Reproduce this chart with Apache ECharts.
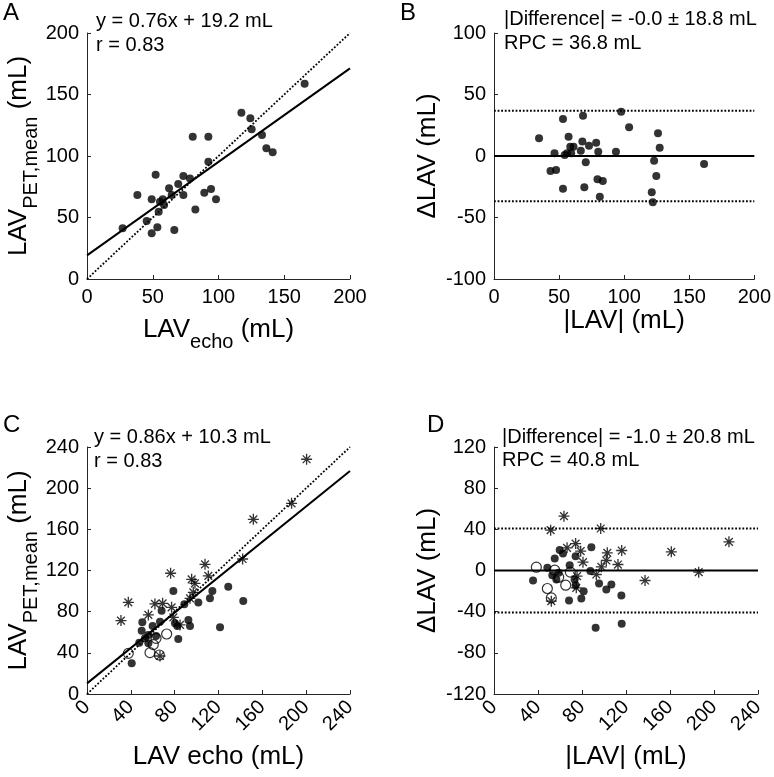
<!DOCTYPE html>
<html><head><meta charset="utf-8">
<script src="https://cdn.jsdelivr.net/npm/echarts@6/dist/echarts.min.js"></script>
<style>html,body{margin:0;padding:0;background:#fff}#c{width:774px;height:777px}</style>
</head><body><div id="c"></div><script>
// ---------- data ----------
// Panel A: LAV echo (x) vs LAV PET,mean (y)
const echoA = [27.1,38.3,45.4,49.2,49.2,52.2,53.5,54.5,55.5,57.6,58.6,62.4,64.4,66.4,69.4,73.3,73.3,78.3,80.4,82.4,89.2,92.3,92.3,94.3,98.1,117.4,124.2,125.2,133.1,136.4,141.2,165.5];
const petA  = [41.2,68.3,47.2,64.8,37.1,84.8,42.0,54.7,62.9,64.8,60.2,73.7,68.3,39.8,77.2,83.7,68.3,81.8,115.7,56.6,70.2,95.4,115.7,73.2,64.8,135.2,130.6,121.7,117.1,106.3,103.0,158.8];
const fitA = [[0,19.2],[200,171.2]];
const identityA = [[0,0],[200,200]];
// Panel B: mean |LAV| vs difference
const meanB = [34.6,43.4,46.5,47.7,53.0,53.0,54.3,56.1,57.3,58.6,59.3,61.1,66.7,67.9,68.4,69.4,70.5,73.0,78.5,79.5,80.1,81.3,83.6,93.7,97.7,103.8,121.2,122.0,123.0,124.7,126.0,127.3,161.4];
const diffB = [14.4,-12.2,2.2,-11.4,30.1,-26.6,0.8,2.2,15.7,7.6,2.2,7.6,4.3,11.7,32.8,-25.5,-5.1,8.4,10.8,-19.0,3.5,-33.1,-20.3,3.5,36.0,23.3,-29.5,-37.7,-3.8,-16.3,18.4,6.8,-6.5];
const meanLineB = [[0,0],[200,0]];
const rpcUpB = [[0,36.8],[200,36.8]];
const rpcLoB = [[0,-36.8],[200,-36.8]];
// Panel C: three groups (filled, open, asterisk)
const echoCf = [78.8,114.4,128.9,112.2,101.6,88.8,142.6,68.1,50.5,49.9,59.9,66.6,80.3,82.4,92.5,94.0,121.4,83.3,47.7,56.0,52.9,63.0,40.8,56.0];
const petCf  = [100.1,100.1,104.3,93.0,88.8,87.1,90.4,81.0,69.6,61.5,66.1,70.3,68.7,66.1,71.9,66.1,64.8,53.4,49.9,49.2,54.1,56.4,29.8,57.3];
const echoCo = [37.7,57.5,63.0,72.7,66.0,60.5];
const petCo  = [39.5,40.2,54.1,58.3,37.9,48.0];
const echoCs = [200.4,186.7,151.8,142.0,107.7,110.7,76.3,95.5,98.5,97.0,37.7,31.0,62.0,69.0,56.0,77.2,78.8,84.9,66.6,94.0];
const petCs  = [228.1,185.3,169.7,131.2,126.0,114.7,117.3,111.4,107.5,98.8,89.1,71.3,87.5,88.1,76.8,84.2,74.5,67.1,36.9,93.0];
const fitC = [[0,10.3],[240,216.7]];
const identityC = [[0,0],[240,240]];
// Panel D
const meanDf = [35.5,48.5,55.2,59.7,62.7,68.8,74.2,53.0,56.7,58.8,68.2,73.3,74.2,79.4,81.5,88.5,87.6,95.5,102.1,106.7,115.8,92.4,116.1];
const diffDf = [-9.7,2.6,11.7,19.8,16.5,5.2,13.9,-4.5,-8.7,-2.3,-29.2,-8.7,-14.3,-27.2,-20.1,22.7,-0.6,-12.6,-18.5,-13.6,-24.3,-55.7,-51.8];
const meanDo = [38.5,48.5,52.1,65.2,55.2,58.8,69.4];
const diffDo = [3.2,-17.5,-26.6,-14.3,0.3,-6.5,-1.6];
const meanDs = [213.6,186.1,161.2,137.3,116.1,112.7,103.0,102.1,97.6,93.0,97.0,63.6,51.5,52.1,74.2,66.4,78.8,80.9,75.5,74.8];
const diffDs = [27.9,-1.6,18.1,-9.7,19.4,5.8,17.2,9.7,3.6,-3.9,40.8,52.8,39.2,-29.8,26.2,22.0,18.8,8.1,-5.5,-16.8];
const meanLineD = [[0,0],[240,0]];
const rpcUpD = [[0,40.8],[240,40.8]];
const rpcLoD = [[0,-40.8],[240,-40.8]];
// axis ranges [min, max, step]
const xRangeA = [0,200,50], yRangeA = [0,200,50];
const xRangeB = [0,200,50], yRangeB = [-100,100,50];
const xRangeC = [0,240,40], yRangeC = [0,240,40];
const xRangeD = [0,240,40], yRangeD = [-120,120,40];
// ---------- chart ----------
const FONT = '"Liberation Sans", Arial, sans-serif';
const AX = '#262626';
const pairs = (xs, ys) => xs.map((x, i) => [x, ys[i]]);
const richName = {
  a: {fontSize: 26, lineHeight: 44, fontFamily: FONT, color: '#000'},
  b: {fontSize: 20, lineHeight: 20, verticalAlign: 'bottom', fontFamily: FONT, color: '#000'}
};
function axis(gi, r, name, gap, rotate) {
  return {
    type: 'value', gridIndex: gi, min: r[0], max: r[1], interval: r[2],
    name: name, nameLocation: 'middle', nameGap: gap,
    nameTextStyle: {fontFamily: FONT, fontSize: 26, color: '#000', rich: richName},
    axisLine: {onZero: false, lineStyle: {color: AX, width: 1}},
    axisTick: {inside: true, length: 4, lineStyle: {color: AX, width: 1}},
    axisLabel: {color: '#000', fontFamily: FONT, fontSize: 20, margin: rotate ? 10 : 8, rotate: rotate || 0},
    splitLine: {show: false}
  };
}
const STAR = 'path://M-1.2,-10L1.2,-10L1.2,10L-1.2,10Z M-10,-1.2L10,-1.2L10,1.2L-10,1.2Z M-6.2,-7.9L7.9,6.2L6.2,7.9L-7.9,-6.2Z M7.9,-6.2L-6.2,7.9L-7.9,6.2L6.2,-7.9Z';
function filled(gi, data) { return {type: 'scatter', xAxisIndex: gi, yAxisIndex: gi, data, symbol: 'circle', symbolSize: 8, itemStyle: {color: '#000'}, z: 5}; }
function openC(gi, data) { return {type: 'scatter', xAxisIndex: gi, yAxisIndex: gi, data, symbol: 'circle', symbolSize: 10, itemStyle: {color: 'rgba(0,0,0,0)', borderColor: '#000', borderWidth: 1.2}, z: 6}; }
function stars(gi, data) { return {type: 'scatter', xAxisIndex: gi, yAxisIndex: gi, data, symbol: STAR, symbolSize: 11, itemStyle: {color: '#000'}, z: 7}; }
function line(gi, data, dotted) { return {type: 'line', xAxisIndex: gi, yAxisIndex: gi, data, symbol: 'none', silent: true, z: 3, lineStyle: {color: '#000', width: dotted ? 1.8 : 2, type: dotted ? 'dotted' : 'solid'}}; }
function txt(left, top, text, size) { return {type: 'text', left, top, style: {text, font: (size || 20) + 'px "Liberation Sans", Arial, sans-serif', fill: '#000'}}; }

const option = {
  animation: false,
  backgroundColor: '#fff',
  grid: [
    {left: 87, top: 33, width: 263, height: 246},
    {left: 494, top: 33, width: 264, height: 246},
    {left: 87, top: 447, width: 263, height: 247},
    {left: 494, top: 447, width: 264, height: 247}
  ],
  xAxis: [
    axis(0, xRangeA, '{a|LAV}{b|echo}{a| (mL)}', 29),
    axis(1, xRangeB, '|LAV| (mL)', 29),
    axis(2, xRangeC, 'LAV echo (mL)', 50, 45),
    axis(3, xRangeD, '|LAV| (mL)', 50, 45)
  ],
  yAxis: [
    axis(0, yRangeA, '{a|LAV}{b|PET,mean}{a| (mL)}', 46),
    axis(1, yRangeB, 'ΔLAV (mL)', 53),
    axis(2, yRangeC, '{a|LAV}{b|PET,mean}{a| (mL)}', 46),
    axis(3, yRangeD, 'ΔLAV (mL)', 53)
  ],
  series: [
    filled(0, pairs(echoA, petA)), line(0, identityA, true), line(0, fitA, false),
    filled(1, pairs(meanB, diffB)), line(1, meanLineB, false), line(1, rpcUpB, true), line(1, rpcLoB, true),
    filled(2, pairs(echoCf, petCf)), openC(2, pairs(echoCo, petCo)), stars(2, pairs(echoCs, petCs)),
    line(2, identityC, true), line(2, fitC, false),
    filled(3, pairs(meanDf, diffDf)), openC(3, pairs(meanDo, diffDo)), stars(3, pairs(meanDs, diffDs)),
    line(3, meanLineD, false), line(3, rpcUpD, true), line(3, rpcLoD, true)
  ],
  graphic: [
    txt(3, 1, 'A', 24), txt(400, 1, 'B', 24), txt(3, 413, 'C', 24), txt(427, 413, 'D', 24),
    txt(96, 11, 'y = 0.76x + 19.2 mL'), txt(96, 35, 'r = 0.83'),
    txt(504, 9, '|Difference| = -0.0 ± 18.8 mL'), txt(504, 33, 'RPC = 36.8 mL'),
    txt(94, 427, 'y = 0.86x + 10.3 mL'), txt(94, 451, 'r = 0.83'),
    txt(502, 427, '|Difference| = -1.0 ± 20.8 mL'), txt(502, 450, 'RPC = 40.8 mL')
  ]
};
const chart = echarts.init(document.getElementById('c'), null, {renderer: 'canvas'});
chart.setOption(option);
</script></body></html>
